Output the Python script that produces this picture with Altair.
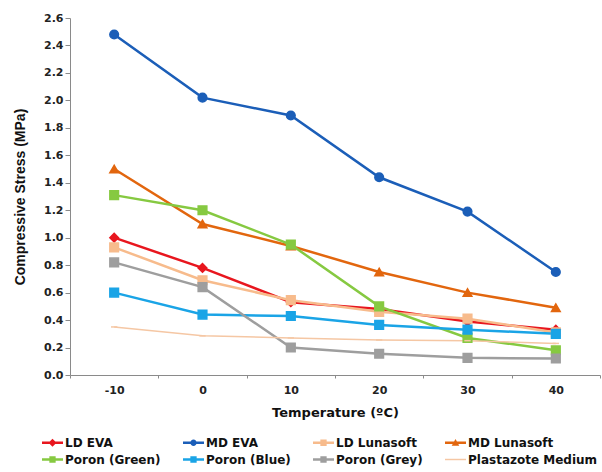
import altair as alt
import pandas as pd

temps = [-10, 0, 10, 20, 30, 40]
series = ["LD EVA", "MD EVA", "LD Lunasoft", "MD Lunasoft",
          "Poron (Green)", "Poron (Blue)", "Poron (Grey)", "Plastazote Medium"]

ld_eva = [1.00, 0.78, 0.53, 0.48, 0.39, 0.33]
md_eva = [2.48, 2.02, 1.89, 1.44, 1.19, 0.75]
ld_lunasoft = [0.93, 0.69, 0.545, 0.46, 0.41, 0.31]
md_lunasoft = [1.50, 1.10, 0.94, 0.75, 0.60, 0.49]
poron_green = [1.31, 1.20, 0.95, 0.50, 0.27, 0.18]
poron_blue = [0.60, 0.44, 0.43, 0.365, 0.33, 0.30]
poron_grey = [0.82, 0.64, 0.20, 0.155, 0.125, 0.12]
plastazote = [0.35, 0.285, 0.27, 0.255, 0.25, 0.23]

colors = ["#E8161E", "#1B5EB8", "#F7BB8C", "#E2660E",
          "#86C941", "#1AA4E6", "#9E9E9E", "#F5C7A4"]
marker_groups = {
    "diamond": ["LD EVA"],
    "circle": ["MD EVA"],
    "triangle-up": ["MD Lunasoft"],
    "square": ["LD Lunasoft", "Poron (Green)", "Poron (Blue)", "Poron (Grey)"],
    "stroke": ["Plastazote Medium"],
}
widths = [2.5, 2.5, 2.5, 2.5, 2.5, 2.5, 2.5, 1.5]

# legend glyphs: short line with a small marker (unit coordinates, drawn clockwise)
bar = "M-1,-0.11H1V0.11H-1Z"
thin = "M-1,-0.07H1V0.07H-1Z"
sq = "M-0.3,-0.3H0.3V0.3H-0.3Z"
legend_shapes = [
    bar + "M0,-0.38L0.38,0L0,0.38L-0.38,0Z",
    bar + "M-0.3,0A0.3,0.3 0 0,1 0.3,0A0.3,0.3 0 0,1 -0.3,0Z",
    bar + sq,
    bar + "M0,-0.36L0.36,0.28L-0.36,0.28Z",
    bar + sq,
    bar + sq,
    bar + sq,
    thin,
]

values = [ld_eva, md_eva, ld_lunasoft, md_lunasoft,
          poron_green, poron_blue, poron_grey, plastazote]
rows = []
for s, vals, w in zip(series, values, widths):
    for t, v in zip(temps, vals):
        rows.append({"Temp": t, "Stress": v, "Series": s, "W": w})
df = pd.DataFrame(rows)

wide = "DejaVu Sans"
narrow = "Liberation Sans"
cscale = alt.Scale(domain=series, range=colors)

x = alt.X("Temp:O", sort=temps, bandPosition=0.5,
          scale=alt.Scale(type="band", paddingInner=0, paddingOuter=0),
          axis=alt.Axis(title="Temperature (ºC)", tickBand="extent", labelAngle=0,
                        labelPadding=6, titlePadding=11, tickSize=3,
                        titleFont=wide, titleFontSize=13))
y = alt.Y("Stress:Q", scale=alt.Scale(domain=[0, 2.6], nice=False),
          axis=alt.Axis(title="Compressive Stress (MPa)", values=[i / 10 for i in range(0, 27, 2)],
                        format=".1f", grid=False, titlePadding=16, tickSize=5,
                        titleFont=narrow, titleFontSize=14))

# invisible layer (no rows pass the filter) that only carries the legend
legend_layer = alt.Chart(df).transform_filter("datum.Stress < 0").mark_point(
    filled=True, size=441, opacity=1
).encode(
    x=x, y=y,
    color=alt.Color("Series:N", scale=cscale,
                    legend=alt.Legend(title=None, orient="none", legendX=-28, legendY=414,
                                      columns=4, direction="horizontal", columnPadding=22,
                                      rowPadding=-5, symbolSize=441, labelFontSize=12,
                                      labelFont=wide, labelFontWeight="bold", labelColor="#111",
                                      labelOffset=2, labelLimit=200, symbolStrokeWidth=0)),
    shape=alt.Shape("Series:N", scale=alt.Scale(domain=series, range=legend_shapes)),
)

lines = alt.Chart(df).mark_line().encode(
    x=x, y=y,
    color=alt.Color("Series:N", scale=cscale),
    strokeWidth=alt.StrokeWidth("W:Q", scale=None, legend=None),
    order=alt.Order("Temp:Q"),
)

layers = [legend_layer, lines]
for shp, members in marker_groups.items():
    layers.append(
        alt.Chart(df).transform_filter(alt.FieldOneOfPredicate(field="Series", oneOf=members))
        .mark_point(filled=True, shape=shp, size=75 if shp != "stroke" else 40,
                    opacity=1, strokeWidth=1.5)
        .encode(
            x=x, y=y,
            color=alt.Color("Series:N", scale=cscale),
            stroke=alt.Stroke("Series:N", scale=cscale),
        )
    )

chart = alt.layer(*layers).properties(
    width=530, height=357,
    autosize=alt.AutoSizeParams(type="none"),
    padding={"left": 70, "top": 18, "right": 2, "bottom": 97},
).configure_view(stroke=None).configure_axis(
    labelFont=wide, labelFontWeight="bold", titleFontWeight="bold",
    labelFontSize=11, labelColor="#222", titleColor="#111",
    domainColor="#8a8a8a", tickColor="#8a8a8a",
)

chart.save("out.html", embed_options={"renderer": "svg", "actions": False})
